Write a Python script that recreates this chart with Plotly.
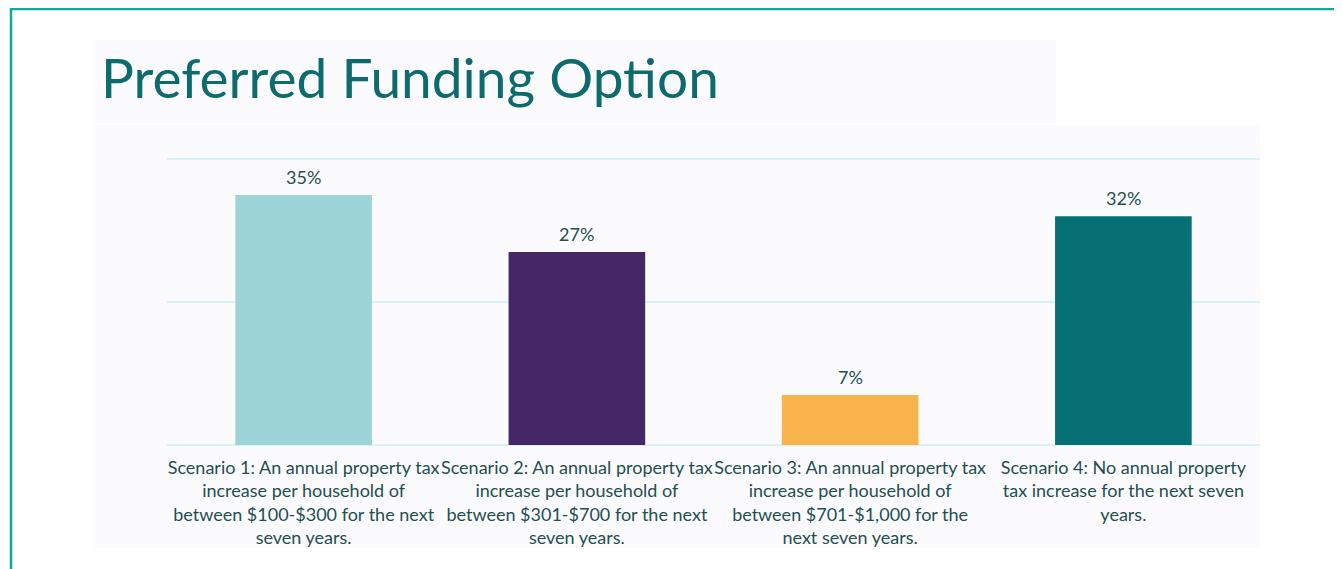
import plotly.graph_objects as go

categories = [
    "Scenario 1: An annual property tax<br>increase per household of<br>between $100-$300 for the next<br>seven years.",
    "Scenario 2: An annual property tax<br>increase per household of<br>between $301-$700 for the next<br>seven years.",
    "Scenario 3: An annual property tax<br>increase per household of<br>between $701-$1,000 for the<br>next seven years.",
    "Scenario 4: No annual property<br>tax increase for the next seven<br>years.",
]
values = [35, 27, 7, 32]
labels = ["35%", "27%", "7%", "32%"]
colors = ["#9DD4D7", "#452666", "#F8B34D", "#077075"]

# page offset (browser body margin) is 8px; figure coordinates below are page - 8
W, H = 1334, 561
L, R, T, B = 159, 1252, 144, 437  # plot area in figure pixels


def px(p):
    return (p - L) / (R - L)


def py(p):
    return (B - p) / (B - T)


fig = go.Figure(
    go.Bar(
        x=categories,
        y=values,
        marker=dict(color=colors, line=dict(width=0)),
        cliponaxis=False,
        hoverinfo="skip",
    )
)

shapes = [
    # title panel
    dict(type="rect", xref="paper", yref="paper", x0=px(87), x1=px(1048), y0=py(115), y1=py(32),
         fillcolor="#FBFBFE", line=dict(width=0), layer="below"),
    # chart panel
    dict(type="rect", xref="paper", yref="paper", x0=px(87), x1=px(1252), y0=py(540), y1=py(117),
         fillcolor="#FBFBFE", line=dict(width=0), layer="below"),
    # teal frame
    dict(type="line", xref="paper", yref="paper", x0=px(2), x1=px(1334), y0=py(1), y1=py(1),
         line=dict(color="#18A59D", width=2.5)),
    dict(type="line", xref="paper", yref="paper", x0=px(3), x1=px(3), y0=py(0), y1=py(561),
         line=dict(color="#18A59D", width=2.5)),
]

annotations = [
    dict(text="Preferred Funding Option", xref="paper", yref="paper",
         x=px(91), y=py(69), xanchor="left", yanchor="middle", showarrow=False,
         font=dict(family="Lato", size=55, color="#0D6B6E")),
]
for c, v, t in zip(categories, values, labels):
    annotations.append(
        dict(text=t, x=c, y=v, xref="x", yref="y", xanchor="center", yanchor="bottom",
             yshift=5, showarrow=False,
             font=dict(family="Lato", size=18, color="#1F4E50"))
    )

fig.update_layout(
    width=W,
    height=H,
    margin=dict(l=L, r=W - R, t=T, b=H - B, pad=0, autoexpand=False),
    paper_bgcolor="white",
    plot_bgcolor="rgba(0,0,0,0)",
    bargap=0.5,
    showlegend=False,
    font=dict(family="Lato", color="#1F4E50"),
    shapes=shapes,
    annotations=annotations,
    xaxis=dict(showgrid=False, showline=False, zeroline=False, ticks="",
               tickangle=0, automargin=False, ticklabelstandoff=10,
               tickfont=dict(family="Lato", size=18, color="#1F4E50")),
    yaxis=dict(range=[0, 41], tickvals=[0, 20, 40], showticklabels=False, showgrid=True,
               automargin=False,
               gridcolor="#D6F4F8", gridwidth=1.5, zeroline=True, zerolinecolor="#D6F4F8",
               zerolinewidth=1.5, showline=False),
)

fig.write_html("out.html")
